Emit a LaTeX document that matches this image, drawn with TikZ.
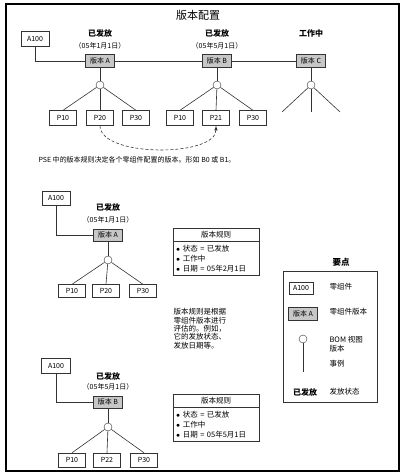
\documentclass[tikz,border=0pt]{standalone}
\usepackage{fontspec}
\setmainfont{Noto Sans CJK SC}
\usetikzlibrary{shapes, arrows, calc, positioning}
\definecolor{vergray}{rgb}{0.78, 0.78, 0.78}
\definecolor{inkgray}{rgb}{0.2, 0.2, 0.2}

\tikzset{
  partbox/.style={draw=inkgray, fill=white, minimum width=27, minimum height=15, inner sep=0pt, font=\fontsize{7}{8}\selectfont},
  verbox/.style={draw=inkgray, fill=vergray, minimum width=29, minimum height=13, inner sep=0pt, font=\fontsize{7}{8}\selectfont},
  bomdot/.style={draw=inkgray, circle, fill=white, minimum size=8, inner sep=0pt},
  relstate/.style={font=\fontsize{8}{9}\selectfont\bfseries},
  reldate/.style={font=\fontsize{7}{8}\selectfont},
  rulebox/.style={draw=inkgray, rectangle split, rectangle split parts=2, text width=80, inner xsep=3, inner ysep=3, font=\fontsize{7.5}{10}\selectfont, anchor=north west},
  keytext/.style={anchor=west, align=left, font=\fontsize{7.5}{8.5}\selectfont},
  link/.style={draw=inkgray, line width=0.6}
}

\begin{document}
\begin{tikzpicture}[x=1pt, y=-1pt]
        \useasboundingbox (0,0) rectangle (402,476);
        \draw [line width=1.2] (6,4) rectangle (399,471);
        \node [font=\fontsize{11}{12}\selectfont] (Title) at (198,15) {版本配置};

        % configuration over time
        \node [partbox, minimum width=28] (Ta) at (35,39) {A100};
        \node [relstate] (Sa) at (100,33) {已发放};
        \node [reldate] (Da) at (100,46) {（05年1月1日）};
        \node [relstate] (Sb) at (217,33) {已发放};
        \node [reldate] (Db) at (217,46) {（05年5月1日）};
        \node [relstate] (Sc) at (311,33) {工作中};
        \node [verbox] (Va) at (100,61) {版本 A};
        \node [verbox] (Vb) at (217,61) {版本 B};
        \node [verbox] (Vc) at (311,61) {版本 C};

        \node [bomdot] (Ca) at (100,85) {};
        \node [bomdot] (Cb) at (217,85) {};
        \node [bomdot] (Cc) at (311,85) {};

        \node [partbox] (Pa1) at (63,118) {P10};
        \node [partbox] (Pa2) at (100,118) {P20};
        \node [partbox] (Pa3) at (136,118) {P30};
        \node [partbox] (Pb1) at (180,118) {P10};
        \node [partbox] (Pb2) at (216,118) {P21};
        \node [partbox] (Pb3) at (253,118) {P30};
        \coordinate (Xc1) at (282,112);
        \coordinate (Xc2) at (311,112);
        \coordinate (Xc3) at (340,112);

        \draw [link] (Ta) |- (Va);
        \draw [link] (Va) -- (Vb);
        \draw [link] (Vb) -- (Vc);
        \draw [link] (Va) -- (Ca);
        \draw [link] (Vb) -- (Cb);
        \draw [link] (Vc) -- (Cc);
        \draw [link] (Ca) -- (Pa1.north);
        \draw [link] (Ca) -- (Pa2.north);
        \draw [link] (Ca) -- (Pa3.north);
        \draw [link] (Cb) -- (Pb1.north);
        \draw [link] (Cb) -- (Pb2.north);
        \draw [link] (Cb) -- (Pb3.north);
        \draw [link] (Cc) -- (Xc1);
        \draw [link] (Cc) -- (Xc2);
        \draw [link] (Cc) -- (Xc3);
        \draw [link, densely dashed, -latex] (Pa2.south) to [out=-90, in=-90, looseness=0.7] (Pb2.south);

        \node [anchor=west, font=\fontsize{7}{8}\selectfont] (Cap) at (35,160) {PSE 中的版本规则决定各个零组件配置的版本。形如 B0 或 B1。};

        % first release
        \node [partbox, minimum width=28, minimum height=14] (Ua) at (56,198) {A100};
        \node [relstate] (Sd) at (108,207) {已发放};
        \node [reldate] (Dd) at (108,220) {（05年1月1日）};
        \node [verbox, minimum height=12] (Vd) at (108,235) {版本 A};
        \node [bomdot] (Cd) at (108,260) {};
        \node [partbox, minimum height=13] (Pd1) at (72,291) {P10};
        \node [partbox, minimum height=13] (Pd2) at (106,291) {P20};
        \node [partbox, minimum height=13] (Pd3) at (143,291) {P30};
        \draw [link] (Ua) |- (Vd);
        \draw [link] (Vd) -- (Cd);
        \draw [link] (Cd) -- (Pd1.north);
        \draw [link] (Cd) -- (Pd2.north);
        \draw [link] (Cd) -- (Pd3.north);
        \node [rulebox] (Ra) at (173,228) {\makebox[80pt]{版本规则}
            \nodepart{two}$\bullet$\ 状态 = 已发放\\$\bullet$\ 工作中\\$\bullet$\ 日期 = 05年2月1日};

        \node [anchor=north west, align=left, font=\fontsize{7.5}{8.3}\selectfont] (Note) at (170,305)
            {版本规则是根据\\零组件版本进行\\评估的。例如，\\它的发放状态、\\发放日期等。};

        % second release
        \node [partbox, minimum width=29] (Ub) at (56,366) {A100};
        \node [relstate] (Se) at (108,376) {已发放};
        \node [reldate] (De) at (108,387) {（05年5月1日）};
        \node [verbox, minimum height=12] (Ve) at (108,402) {版本 B};
        \node [bomdot] (Ce) at (108,427) {};
        \node [partbox, minimum height=14] (Pe1) at (72,460) {P10};
        \node [partbox, minimum height=14] (Pe2) at (107,460) {P22};
        \node [partbox, minimum height=14] (Pe3) at (144,460) {P30};
        \draw [link] (Ub) |- (Ve);
        \draw [link] (Ve) -- (Ce);
        \draw [link] (Ce) -- (Pe1.north);
        \draw [link] (Ce) -- (Pe2.north);
        \draw [link] (Ce) -- (Pe3.north);
        \node [rulebox] (Rb) at (173,394) {\makebox[80pt]{版本规则}
            \nodepart{two}$\bullet$\ 状态 = 已发放\\$\bullet$\ 工作中\\$\bullet$\ 日期 = 05年5月1日};

        % key
        \node [font=\fontsize{8.5}{9}\selectfont\bfseries] (KeyTitle) at (341,262) {要点};
        \node [draw=inkgray, line width=0.6, minimum width=94, minimum height=131, anchor=north west] (Key) at (283,271) {};
        \node [partbox, minimum width=24, minimum height=12] (Kp) at (301,288) {A100};
        \node [keytext] (KpT) at (326,287) {零组件};
        \node [verbox] (Kv) at (303,314) {版本 A};
        \node [keytext] (KvT) at (326,312) {零组件版本};
        \node [bomdot] (Kc) at (303,339) {};
        \coordinate (Kend) at (303,372);
        \draw [link] (Kc) -- (Kend);
        \node [keytext] (KcT) at (326,344) {BOM 视图\\版本};
        \node [keytext] (KoT) at (326,364) {事例};
        \node [relstate] (Ks) at (305,392) {已发放};
        \node [keytext] (KsT) at (326,392) {发放状态};
\end{tikzpicture}
\end{document}
